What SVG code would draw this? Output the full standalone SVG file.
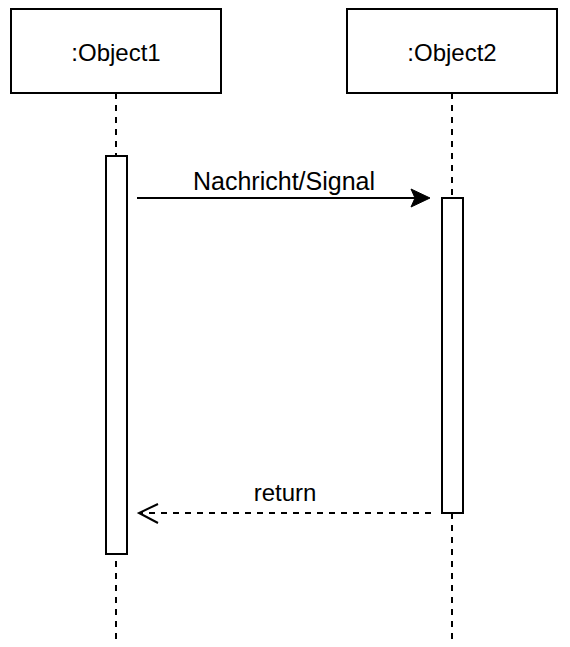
<svg xmlns="http://www.w3.org/2000/svg" width="570" height="647" viewBox="0 0 570 647">
<style>
.box{fill:#fff;stroke:#000;stroke-width:2}
.life{fill:none;stroke:#000;stroke-width:2;stroke-dasharray:6 6}
.t{font-family:"Liberation Sans",Arial,sans-serif;font-size:24px;fill:#000;text-anchor:middle}
.msg{fill:none;stroke:#000;stroke-width:2}
</style>
<rect width="570" height="647" fill="#fff"/>
<g id="object1">
<rect class="box" x="11" y="9" width="210" height="84"/>
<text class="t" x="116" y="61">:Object1</text>
<line class="life" x1="116" y1="93" x2="116" y2="640"/>
<rect class="box" x="106" y="156" width="21" height="398"/>
</g>
<g id="object2">
<rect class="box" x="347" y="9" width="210" height="84"/>
<text class="t" x="452" y="61">:Object2</text>
<line class="life" x1="452" y1="93" x2="452" y2="640"/>
<rect class="box" x="442" y="198" width="21" height="315"/>
</g>
<g id="connectors">
<line class="msg" x1="137" y1="198" x2="416" y2="198"/>
<path d="M430,198 L411,189 L415,198 L411,207 Z" fill="#000" stroke="#000" stroke-width="1"/>
<text class="t" x="284" y="190" style="font-size:25px">Nachricht/Signal</text>
<line class="msg" x1="431" y1="513" x2="139" y2="513" stroke-dasharray="6 6"/>
<path d="M158,504 L139,513 L158,523" fill="none" stroke="#000" stroke-width="2"/>
<text class="t" x="285" y="501">return</text>
</g>
</svg>
